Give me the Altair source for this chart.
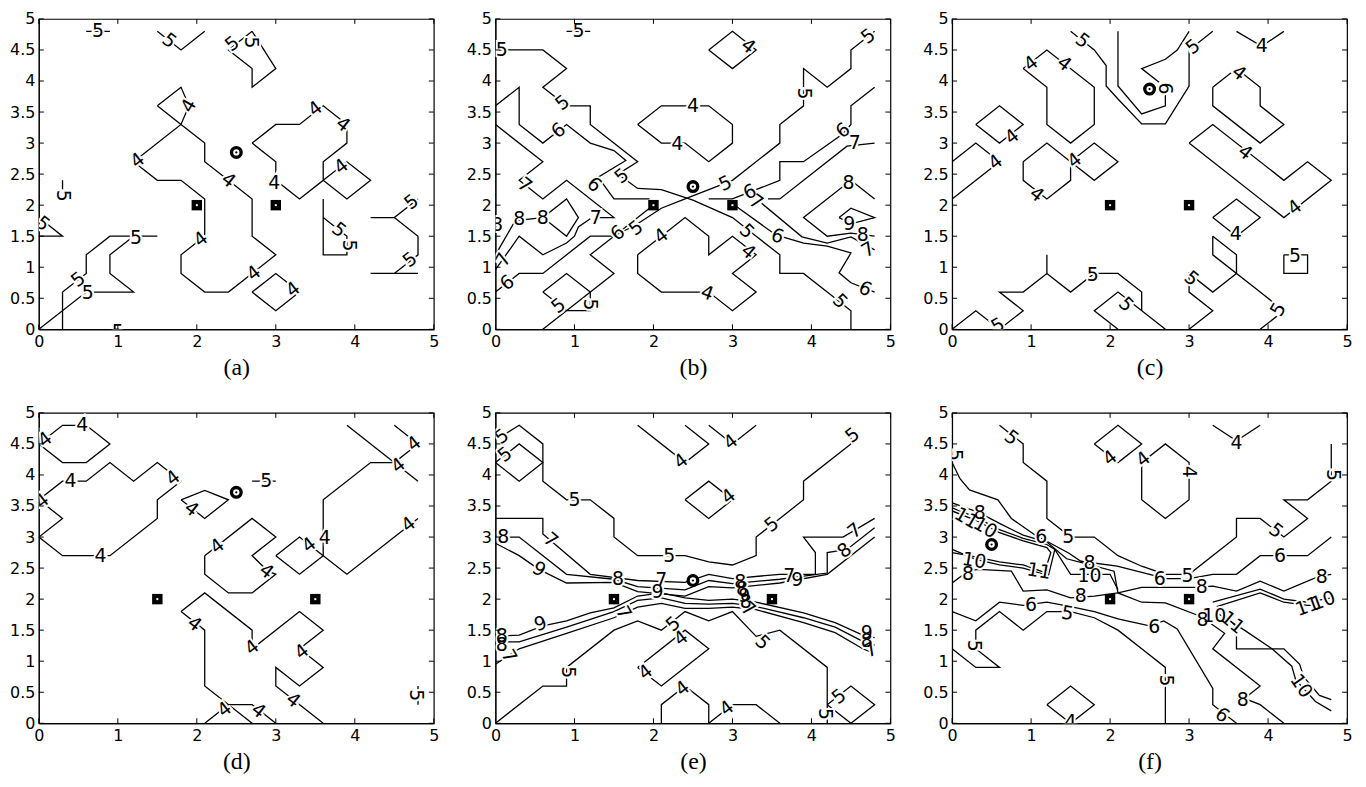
import altair as alt
import pandas as pd

W, H = 397, 312

XTICKS = [0, 1, 2, 3, 4, 5]
YTICKS = [0, 0.5, 1, 1.5, 2, 2.5, 3, 3.5, 4, 4.5, 5]
TITLES = ["(a)", "(b)", "(c)", "(d)", "(e)", "(f)"]

# ---------------- panel (a) ----------------
A_LINES = [
    [(0.6, 4.8), (0.9, 4.8)],
    [(1.5, 4.8), (1.8, 4.5), (2.1, 4.8)],
    [(2.7, 4.8), (3.0, 4.2), (2.7, 3.9), (2.7, 4.2), (2.4, 4.5), (2.7, 4.8)],
    [(1.5, 3.6), (1.8, 3.9), (1.9, 3.6), (1.8, 3.3), (1.2, 2.7), (1.5, 2.4), (1.8, 2.4), (2.1, 2.1),
     (2.1, 1.5), (1.8, 1.2), (1.8, 0.9), (2.1, 0.6), (2.4, 0.6), (2.7, 0.9), (3.0, 1.2), (2.7, 1.5),
     (2.7, 2.1), (2.4, 2.4), (2.1, 2.7), (2.1, 3.0), (1.8, 3.3), (1.5, 3.6)],
    [(2.7, 3.0), (3.0, 3.3), (3.3, 3.3), (3.6, 3.6), (3.9, 3.3), (3.9, 3.0), (3.6, 2.7), (3.6, 2.4),
     (3.3, 2.1), (3.0, 2.4), (3.0, 2.7), (2.7, 3.0)],
    [(3.6, 2.4), (3.9, 2.7), (4.2, 2.4), (3.9, 2.1), (3.6, 2.4)],
    [(2.7, 0.6), (3.0, 0.9), (3.3, 0.6), (3.0, 0.3), (2.7, 0.6)],
    [(0.3, 0.0), (0.3, 0.6), (0.6, 0.9), (0.6, 1.2), (0.9, 1.5), (1.5, 1.5)],
    [(0.0, 0.0), (0.6, 0.6), (1.2, 0.6), (0.9, 0.9), (0.9, 1.2), (1.2, 1.5)],
    [(0.3, 2.4), (0.3, 2.25)],
    [(0.0, 1.8), (0.3, 1.5), (0.0, 1.5)],
    [(3.6, 2.1), (3.6, 1.2), (3.9, 1.2), (3.9, 1.5), (3.6, 1.8)],
    [(4.2, 1.8), (4.5, 1.8), (4.8, 2.1)],
    [(4.5, 1.8), (4.8, 1.5), (4.8, 1.2), (4.5, 0.9)],
    [(4.2, 0.9), (4.8, 0.9)],
]
A_LABELS = [
    ("5", 0.75, 4.8, 0), ("5", 1.65, 4.65, 38), ("5", 2.45, 4.6, 322), ("5", 2.68, 4.62, 90),
    ("4", 1.9, 3.6, 300), ("4", 1.25, 2.72, 322), ("4", 2.4, 2.4, 38), ("4", 2.05, 1.45, 322),
    ("4", 2.72, 0.9, 322), ("4", 3.5, 3.55, 322), ("4", 3.85, 3.3, 38), ("4", 2.98, 2.35, 0),
    ("4", 3.83, 2.62, 322), ("4", 3.22, 0.64, 322),
    ("5", 0.5, 0.8, 322), ("5", 1.23, 1.47, 0), ("5", 0.62, 0.59, 0), ("5", 0.3, 2.15, 90),
    ("5", 0.05, 1.7, 38), ("5", 1.0, -0.04, 0), ("5", 3.8, 1.6, 38), ("5", 3.92, 1.35, 90),
    ("5", 4.72, 2.05, 322), ("5", 4.7, 1.12, 322),
]
A_SQUARES = [(2.0, 2.0), (3.0, 2.0)]
A_CIRCLE = (2.5, 2.85)

# ---------------- panel (b) ----------------
B_LINES = [
    [(0.9, 4.8), (1.2, 4.8)],
    [(0.0, 4.5), (0.6, 4.5), (0.9, 4.2), (0.6, 3.9), (0.9, 3.6), (1.2, 3.6), (1.2, 3.3), (1.8, 2.7),
     (1.55, 2.5), (1.8, 2.27), (2.1, 2.25), (2.5, 2.08), (3.0, 1.8), (3.3, 1.5), (3.6, 1.2), (3.6, 0.9),
     (3.9, 0.9), (4.2, 0.6), (4.5, 0.3), (4.5, 0.0)],
    [(0.6, 0.0), (1.5, 0.9), (1.2, 1.2), (1.5, 1.5), (1.8, 1.7), (2.1, 1.95), (2.4, 2.1), (3.0, 2.4),
     (3.6, 3.0), (3.6, 3.3), (3.9, 3.6), (3.9, 4.2), (4.2, 3.9), (4.5, 4.2), (4.5, 4.5), (4.8, 4.8)],
    [(0.0, 0.6), (0.3, 0.9), (0.6, 0.9), (1.2, 1.5), (1.5, 1.5), (1.95, 1.95)],
    [(0.0, 3.6), (0.3, 3.9), (0.3, 3.3), (0.6, 3.0), (0.9, 3.3), (1.2, 3.0), (1.5, 2.88), (1.65, 2.72),
     (1.3, 2.45), (1.5, 2.1), (1.95, 2.1)],
    [(2.7, 2.1), (3.0, 2.1), (3.6, 2.4), (3.6, 2.7), (3.9, 2.7), (4.4, 3.15), (4.5, 3.3), (4.5, 3.6),
     (4.8, 3.9)],
    [(3.05, 1.98), (3.55, 1.52), (3.9, 1.39), (4.2, 1.34), (4.5, 1.23), (4.35, 0.91), (4.5, 0.75),
     (4.8, 0.6)],
    [(0.0, 3.3), (0.6, 2.7), (0.3, 2.4), (0.6, 2.1), (0.9, 2.4), (1.5, 1.8), (1.3, 1.8)],
    [(1.2, 1.78), (1.05, 1.65), (1.0, 1.5), (0.9, 1.39), (0.6, 1.2), (0.3, 1.5), (0.0, 0.96)],
    [(0.0, 1.2), (0.25, 1.75), (0.6, 1.8), (0.9, 2.1), (1.05, 1.8), (0.9, 1.5), (0.6, 1.8)],
    [(3.45, 2.1), (3.6, 2.1), (4.45, 2.95), (4.8, 3.0)],
    [(3.37, 2.03), (3.88, 1.49), (4.2, 1.39), (4.5, 1.49), (4.8, 1.28)],
    [(4.8, 2.1), (4.5, 2.4), (3.9, 1.8), (4.2, 1.5), (4.5, 1.55), (4.8, 1.5)],
    [(4.35, 1.8), (4.5, 1.95), (4.8, 1.8), (4.5, 1.7), (4.35, 1.8)],
    [(1.8, 3.3), (2.1, 3.6), (2.7, 3.6), (3.0, 3.3), (3.0, 3.0), (2.7, 2.7), (2.4, 3.0), (2.1, 3.0),
     (1.8, 3.3)],
    [(2.7, 4.5), (3.0, 4.8), (3.3, 4.5), (3.0, 4.2), (2.7, 4.5)],
    [(1.8, 1.2), (2.1, 1.5), (2.4, 1.8), (2.7, 1.5), (2.7, 1.2), (3.0, 1.5), (3.3, 1.2), (3.0, 0.9),
     (3.3, 0.6), (3.0, 0.3), (2.7, 0.6), (2.1, 0.6), (1.8, 0.9), (1.8, 1.2)],
    [(0.6, 0.6), (0.9, 0.9), (1.2, 0.6), (1.2, 0.3), (0.9, 0.3), (0.6, 0.6)],
]
B_LABELS = [
    ("5", 1.05, 4.8, 0), ("5", 0.08, 4.5, 0), ("5", 0.85, 3.65, 322), ("5", 1.6, 2.47, 322),
    ("5", 3.18, 1.58, 45), ("5", 4.36, 0.45, 45), ("5", 1.78, 1.63, 322), ("5", 2.91, 2.35, 335),
    ("5", 3.9, 3.8, 90), ("5", 4.72, 4.72, 322),
    ("6", 0.15, 0.75, 322), ("6", 1.55, 1.55, 322), ("6", 0.8, 3.2, 322), ("6", 1.25, 2.33, 40),
    ("6", 3.22, 2.21, 335), ("6", 4.4, 3.2, 322), ("6", 3.57, 1.5, 20), ("6", 4.68, 0.65, 25),
    ("7", 0.37, 2.32, 38), ("7", 1.27, 1.8, 0), ("7", 0.1, 1.12, 300), ("7", 4.55, 3.0, 0),
    ("7", 3.3, 2.05, 35), ("7", 4.72, 1.28, 330),
    ("8", 0.3, 1.78, 0), ("8", 0.6, 1.8, 0), ("8", 0.02, 1.68, 0), ("8", 4.47, 2.35, 0),
    ("8", 4.65, 1.52, 0), ("9", 4.48, 1.7, 0),
    ("4", 2.5, 3.6, 0), ("4", 2.3, 2.98, 0), ("4", 3.2, 4.56, 38), ("4", 2.1, 1.5, 322),
    ("4", 3.2, 1.25, 40), ("4", 2.68, 0.58, 20),
    ("5", 0.8, 0.38, 322), ("5", 1.2, 0.4, 90),
]
B_SQUARES = [(2.0, 2.0), (3.0, 2.0)]
B_CIRCLE = (2.5, 2.3)

# ---------------- panel (c) ----------------
C_LINES = [
    [(1.5, 4.8), (1.8, 4.5), (1.95, 4.25), (1.95, 3.92), (2.1, 3.71), (2.4, 3.31), (2.7, 3.31),
     (3.0, 3.92), (3.0, 4.5), (3.3, 4.8)],
    [(2.1, 4.8), (2.1, 3.92), (2.4, 3.47), (2.7, 3.6), (2.7, 3.78)],
    [(2.62, 3.98), (2.4, 4.2), (2.7, 4.35), (2.85, 4.5), (3.0, 4.8)],
    [(3.6, 4.8), (3.92, 4.56), (4.2, 4.8)],
    [(0.9, 4.2), (1.2, 4.5), (1.8, 3.9), (1.8, 3.3), (1.5, 3.0), (1.2, 3.3), (1.2, 3.9), (0.9, 4.2)],
    [(0.3, 3.3), (0.6, 3.6), (0.9, 3.3), (0.6, 3.0), (0.3, 3.3)],
    [(0.0, 2.7), (0.3, 3.0), (0.6, 2.7), (0.0, 2.1)],
    [(0.9, 2.7), (1.2, 3.0), (1.5, 2.7), (1.5, 2.4), (1.2, 2.1), (0.9, 2.4), (0.9, 2.7)],
    [(1.5, 2.7), (1.8, 3.0), (2.1, 2.7), (1.8, 2.4), (1.5, 2.7)],
    [(3.3, 3.9), (3.6, 4.2), (3.9, 3.9), (3.9, 3.6), (4.2, 3.3), (3.9, 3.0), (3.3, 3.6), (3.3, 3.9)],
    [(3.0, 3.0), (3.3, 3.3), (4.2, 2.4), (4.5, 2.7), (4.8, 2.4), (4.2, 1.8), (3.0, 3.0)],
    [(3.3, 1.8), (3.6, 2.1), (3.9, 1.8), (3.6, 1.5), (3.3, 1.8)],
    [(4.2, 1.2), (4.5, 1.2), (4.5, 0.9), (4.2, 0.9), (4.2, 1.2)],
    [(0.0, 0.0), (0.3, 0.3), (0.55, 0.05)],
    [(0.6, 0.0), (0.9, 0.3), (0.6, 0.6), (0.9, 0.6), (1.2, 0.9), (1.5, 0.6), (1.8, 0.9), (2.1, 0.9),
     (2.4, 0.6), (2.4, 0.3)],
    [(1.2, 0.9), (1.2, 1.2)],
    [(2.1, 0.0), (1.8, 0.3), (2.1, 0.6), (2.7, 0.0)],
    [(3.3, 1.5), (3.3, 1.2), (3.9, 0.6), (4.2, 0.3), (3.9, 0.0)],
    [(3.3, 1.5), (3.6, 1.2), (3.6, 0.9), (3.3, 0.6), (3.0, 0.9), (3.0, 0.6), (3.3, 0.3), (3.0, 0.0)],
]
C_LABELS = [
    ("5", 1.65, 4.65, 38), ("5", 3.05, 4.55, 322), ("6", 2.7, 3.88, 90), ("4", 3.92, 4.56, 0),
    ("4", 1.0, 4.28, 322), ("4", 1.42, 4.28, 38), ("4", 0.76, 3.1, 322), ("4", 0.55, 2.69, 322),
    ("4", 1.07, 2.17, 38), ("4", 1.55, 2.72, 322), ("4", 3.63, 4.13, 38), ("4", 3.71, 2.85, 38),
    ("4", 4.34, 1.96, 322), ("4", 3.59, 1.53, 0), ("5", 4.34, 1.18, 0), ("5", 0.58, 0.06, 330),
    ("5", 1.78, 0.87, 0), ("5", 2.2, 0.4, 45), ("5", 4.13, 0.32, 300), ("5", 3.03, 0.82, 40),
]
C_SQUARES = [(2.0, 2.0), (3.0, 2.0)]
C_CIRCLE = (2.5, 3.87)

# ---------------- panel (d) ----------------
D_LINES = [
    [(0.0, 4.5), (0.3, 4.8), (0.6, 4.8), (0.9, 4.5), (0.6, 4.2), (0.3, 4.2), (0.0, 4.5)],
    [(0.0, 3.6), (0.3, 3.9), (0.6, 3.9), (0.9, 4.2), (1.2, 3.9), (1.5, 4.2), (1.8, 3.9), (1.5, 3.6),
     (1.5, 3.3), (0.9, 2.7), (0.3, 2.7), (0.0, 3.0), (0.3, 3.3), (0.0, 3.6)],
    [(1.8, 3.6), (2.1, 3.75), (2.4, 3.6), (2.1, 3.3), (1.8, 3.6)],
    [(2.7, 3.9), (3.0, 3.9)],
    [(2.1, 2.7), (2.7, 3.3), (3.0, 3.0), (2.7, 2.7), (2.9, 2.45), (3.0, 2.4), (2.7, 2.1), (2.4, 2.1),
     (2.1, 2.4), (2.1, 2.7)],
    [(3.0, 2.7), (3.3, 3.0), (3.6, 2.7), (3.3, 2.4), (3.0, 2.7)],
    [(4.8, 3.3), (3.9, 2.4), (3.6, 2.7), (3.6, 3.6), (4.2, 4.2), (4.5, 4.2), (4.8, 4.5), (4.5, 4.8)],
    [(3.9, 4.8), (4.8, 3.9)],
    [(1.8, 1.8), (2.1, 2.1), (2.7, 1.5), (2.7, 1.2), (3.3, 1.8), (3.6, 1.5), (3.3, 1.2), (3.6, 0.9),
     (3.3, 0.6), (3.0, 0.9), (3.0, 0.6), (3.6, 0.0)],
    [(1.8, 1.8), (2.1, 1.5), (2.1, 0.6), (2.7, 0.0)],
    [(2.1, 0.0), (2.4, 0.3), (2.7, 0.3), (3.0, 0.0)],
    [(4.8, 0.6), (4.8, 0.3)],
]
D_LABELS = [
    ("4", 0.55, 4.8, 0), ("4", 0.08, 4.57, 322), ("4", 0.4, 3.9, 0), ("4", 1.7, 3.95, 322),
    ("4", 0.78, 2.7, 0), ("4", 0.04, 3.58, 322), ("4", 1.93, 3.45, 38), ("5", 2.88, 3.9, 0),
    ("4", 2.26, 2.85, 322), ("4", 2.88, 2.45, 38), ("4", 3.42, 2.87, 322), ("4", 3.62, 2.98, 0),
    ("4", 4.68, 3.2, 322), ("4", 4.55, 4.15, 322), ("4", 4.75, 4.5, 322), ("4", 2.7, 1.22, 322),
    ("4", 3.33, 1.15, 322), ("4", 3.22, 0.37, 38), ("4", 1.97, 1.6, 38), ("4", 2.35, 0.22, 322),
    ("4", 2.78, 0.2, 38), ("5", 4.78, 0.45, 90),
]
D_SQUARES = [(1.5, 2.0), (3.5, 2.0)]
D_CIRCLE = (2.5, 3.72)

# ---------------- panel (e) ----------------
E_LINES = [
    [(0.02, 4.58), (0.3, 4.8), (0.6, 4.5), (0.6, 3.9), (0.9, 3.6), (1.2, 3.6), (1.5, 3.3), (1.5, 3.0),
     (1.8, 2.7), (2.4, 2.7), (2.7, 2.6), (3.0, 2.55), (3.3, 2.7), (3.3, 3.0), (3.6, 3.3), (3.9, 3.6),
     (3.9, 3.9), (4.5, 4.5), (4.5, 4.6)],
    [(0.0, 4.2), (0.3, 4.5), (0.6, 4.2), (0.3, 3.9), (0.0, 4.2)],
    [(1.8, 4.8), (2.4, 4.2), (2.7, 4.5), (2.4, 4.8)],
    [(2.7, 4.8), (3.0, 4.5), (3.3, 4.8)],
    [(2.4, 3.6), (2.7, 3.9), (3.0, 3.6), (2.7, 3.3), (2.4, 3.6)],
    [(0.0, 3.3), (0.6, 3.3), (0.6, 3.05), (1.2, 2.4), (1.8, 2.3), (2.4, 2.27), (2.7, 2.4), (3.0, 2.33),
     (3.6, 2.4), (4.05, 2.4), (4.05, 2.75), (3.9, 3.0), (4.4, 3.0), (4.8, 3.3)],
    [(0.0, 3.0), (0.3, 3.0), (0.9, 2.4), (1.5, 2.32), (1.8, 2.2), (2.4, 2.15), (2.7, 2.3), (3.0, 2.25),
     (3.6, 2.32), (4.2, 2.42), (4.2, 2.75), (4.45, 2.8), (4.8, 3.15)],
    [(0.0, 2.9), (0.3, 2.7), (0.55, 2.48), (0.9, 2.26), (1.5, 2.27), (1.8, 2.12), (2.4, 2.05), (2.7, 2.2),
     (3.0, 2.18), (3.6, 2.26), (4.2, 2.4), (4.8, 3.0)],
    [(0.0, 1.4), (0.3, 1.42), (0.6, 1.57), (0.9, 1.65), (1.2, 1.78), (1.5, 1.86), (1.8, 2.05), (2.1, 2.1),
     (2.4, 2.02), (2.7, 1.98), (3.0, 2.0), (3.3, 1.95), (3.9, 1.78), (4.3, 1.62), (4.65, 1.42), (4.8, 1.38)],
    [(0.0, 1.31), (0.3, 1.31), (0.9, 1.55), (1.5, 1.8), (1.8, 1.98), (2.1, 2.02), (2.4, 1.93), (2.7, 1.92),
     (3.0, 1.93), (3.3, 1.88), (3.9, 1.7), (4.3, 1.55), (4.65, 1.32), (4.8, 1.26)],
    [(0.0, 0.95), (0.3, 1.2), (0.9, 1.45), (1.5, 1.7), (1.8, 1.87), (2.1, 1.93), (2.4, 1.85), (2.7, 1.85),
     (3.0, 1.87), (3.3, 1.83), (3.9, 1.62), (4.3, 1.46), (4.65, 1.2), (4.8, 1.12)],
    [(0.0, 0.0), (0.6, 0.6), (0.9, 0.6), (0.9, 0.9), (1.5, 1.5), (1.8, 1.65), (2.1, 1.5), (2.4, 1.8),
     (2.7, 1.65), (3.0, 1.8), (3.3, 1.4), (3.6, 1.5), (4.2, 0.9), (4.2, 0.0)],
    [(1.8, 0.9), (2.4, 1.5), (2.7, 1.2), (2.1, 0.6), (1.8, 0.9)],
    [(2.1, 0.0), (2.1, 0.3), (2.4, 0.6), (2.7, 0.3), (2.7, 0.0)],
    [(2.7, 0.0), (3.0, 0.3), (3.3, 0.3), (3.6, 0.0)],
    [(4.2, 0.3), (4.5, 0.6), (4.8, 0.3), (4.5, 0.0), (4.2, 0.3)],
]
E_LABELS = [
    ("5", 0.08, 4.62, 322), ("5", 0.12, 4.33, 322), ("5", 1.0, 3.6, 0), ("5", 2.2, 2.69, 0),
    ("5", 3.5, 3.2, 322), ("5", 4.52, 4.64, 322), ("4", 2.35, 4.22, 322), ("4", 2.98, 4.53, 322),
    ("4", 2.95, 3.65, 322),
    ("8", 0.1, 3.0, 0), ("7", 0.7, 2.95, 40), ("9", 0.55, 2.48, 30), ("8", 1.55, 2.33, 0),
    ("7", 2.1, 2.3, 0), ("9", 2.05, 2.12, 0), ("7", 1.62, 1.78, 60), ("9", 0.57, 1.6, 340),
    ("8", 0.08, 1.4, 0), ("8", 0.08, 1.26, 0), ("7", 0.17, 1.08, 60),
    ("8", 3.1, 2.28, 0), ("8", 3.12, 2.16, 0), ("9", 3.15, 2.05, 0), ("8", 3.17, 1.95, 0),
    ("7", 3.2, 1.84, 40), ("7", 3.72, 2.38, 0), ("9", 3.82, 2.3, 0), ("8", 4.42, 2.78, 322),
    ("7", 4.55, 3.1, 322), ("9", 4.7, 1.45, 0), ("8", 4.7, 1.33, 0), ("7", 4.75, 1.18, 330),
    ("5", 0.92, 0.82, 90), ("5", 2.25, 1.6, 320), ("5", 3.38, 1.3, 45), ("5", 4.17, 0.15, 90),
    ("4", 2.35, 1.37, 322), ("4", 1.9, 0.82, 322), ("4", 2.37, 0.56, 322), ("4", 2.93, 0.24, 322),
    ("5", 4.35, 0.43, 322),
]
E_SQUARES = [(1.5, 2.0), (3.5, 2.0)]
E_CIRCLE = (2.5, 2.3)

# ---------------- panel (f) ----------------
F_LINES = [
    [(0.6, 4.8), (0.9, 4.5), (0.9, 4.2), (1.2, 3.9), (1.2, 3.3), (1.5, 3.0), (1.8, 3.0), (2.1, 2.7),
     (2.4, 2.53), (2.7, 2.4), (3.0, 2.4), (3.6, 3.0), (3.6, 3.3), (3.9, 3.3), (4.2, 3.0), (4.5, 3.3),
     (4.2, 3.6), (4.5, 3.6), (4.8, 3.9), (4.8, 4.5)],
    [(0.0, 4.2), (0.1, 3.94), (0.22, 3.76), (0.58, 3.6), (0.75, 3.3), (1.04, 3.04), (1.48, 2.74),
     (1.63, 2.61), (2.09, 2.53), (2.5, 2.4), (2.7, 2.33), (3.0, 2.33), (3.3, 2.4), (3.6, 2.4), (3.9, 2.7),
     (4.5, 2.7), (4.8, 3.0)],
    [(0.0, 3.55), (0.33, 3.4), (0.6, 3.22), (0.9, 3.03), (1.2, 2.92), (1.45, 2.65), (1.75, 2.55),
     (2.05, 2.45), (2.1, 2.1), (2.4, 1.95), (2.7, 1.94), (3.15, 1.72), (3.45, 1.45), (3.3, 1.2),
     (3.9, 0.6), (3.7, 0.4), (3.9, 0.3), (4.2, 0.0)],
    [(0.0, 3.47), (0.3, 3.32), (0.6, 3.12), (0.9, 2.98), (1.2, 2.88), (1.3, 2.8), (1.22, 2.38),
     (0.9, 2.5), (0.6, 2.55), (0.3, 2.64), (0.0, 2.8)],
    [(0.0, 3.42), (0.3, 3.27), (0.6, 3.07), (0.9, 2.94), (1.2, 2.83), (1.25, 2.75), (1.17, 2.43),
     (0.9, 2.55), (0.6, 2.6), (0.3, 2.68), (0.0, 2.75)],
    [(1.3, 2.8), (1.5, 2.4), (2.0, 2.4), (2.1, 2.15)],
    [(0.0, 2.26), (0.2, 2.45), (0.33, 2.48), (0.75, 2.45), (0.9, 2.13), (1.2, 2.15), (1.5, 2.02),
     (1.8, 2.05), (2.1, 2.1), (2.4, 2.19), (3.1, 2.19), (3.3, 2.21), (3.6, 2.13), (3.9, 2.29),
     (4.2, 2.13), (4.65, 2.37), (4.8, 2.4)],
    [(0.0, 1.8), (0.3, 1.65), (0.6, 1.95), (0.9, 1.9), (1.2, 1.95), (1.5, 1.88), (1.8, 1.8), (2.1, 1.68),
     (2.5, 1.57), (2.68, 1.65), (2.85, 1.52), (3.3, 0.56), (3.3, 0.3), (3.6, 0.0)],
    [(0.0, 1.2), (0.3, 0.9), (0.6, 0.9), (0.3, 1.2), (0.3, 1.5), (0.6, 1.8), (0.9, 1.5), (1.2, 1.8),
     (1.5, 1.8), (1.8, 1.7), (2.1, 1.5), (2.4, 1.2), (2.7, 0.9), (2.7, 0.0)],
    [(3.3, 1.95), (3.9, 2.16), (4.2, 2.0), (4.5, 1.95), (4.8, 2.02)],
    [(3.35, 1.88), (3.9, 2.1), (4.2, 1.95), (4.5, 1.9), (4.65, 1.9)],
    [(3.35, 1.78), (3.7, 1.5), (4.05, 1.2), (4.3, 0.92), (4.35, 0.7), (4.6, 0.35), (4.8, 0.2)],
    [(3.45, 1.75), (3.6, 1.55), (3.6, 1.2), (4.2, 1.2), (4.4, 0.95), (4.45, 0.75), (4.65, 0.45),
     (4.8, 0.38)],
    [(1.8, 4.5), (2.1, 4.8), (2.4, 4.5), (2.1, 4.2), (1.8, 4.5)],
    [(2.4, 4.2), (2.7, 4.5), (3.0, 4.2), (3.0, 3.6), (2.7, 3.3), (2.4, 3.6), (2.4, 4.2)],
    [(3.3, 4.8), (3.6, 4.55), (3.9, 4.8)],
    [(1.2, 0.3), (1.5, 0.6), (1.8, 0.3), (1.5, 0.0), (1.2, 0.3)],
]
F_LABELS = [
    ("5", 0.75, 4.6, 38), ("5", 1.47, 3.0, 0), ("5", 2.98, 2.38, 0), ("5", 4.1, 3.1, 38),
    ("5", 4.82, 4.0, 90), ("5", 0.03, 4.32, 90),
    ("6", 1.13, 3.0, 0), ("6", 2.63, 2.33, 0), ("6", 4.15, 2.7, 0),
    ("8", 0.35, 3.38, 0), ("8", 1.74, 2.58, 0), ("8", 3.17, 1.66, 0), ("8", 3.68, 0.38, 0),
    ("11", 0.18, 3.3, 30), ("10", 0.42, 3.15, 30), ("10", 0.28, 2.62, 10), ("11", 1.1, 2.45, 10),
    ("10", 1.74, 2.37, 0), ("8", 0.2, 2.4, 0), ("8", 1.63, 2.05, 0), ("8", 3.16, 2.2, 0),
    ("8", 4.68, 2.36, 0), ("6", 1.0, 1.9, 0), ("6", 2.56, 1.55, 0), ("6", 3.42, 0.13, 38),
    ("5", 0.28, 1.25, 90), ("5", 1.46, 1.77, 10), ("5", 2.71, 0.69, 90),
    ("10", 4.7, 1.97, 340), ("11", 4.5, 1.88, 340), ("10", 3.32, 1.72, 0), ("11", 3.55, 1.62, 40),
    ("10", 4.42, 0.6, 55),
    ("4", 2.0, 4.27, 322), ("4", 2.42, 4.25, 322), ("4", 3.0, 4.05, 90), ("4", 3.6, 4.52, 0),
    ("4", 1.5, 0.02, 0),
]
F_SQUARES = [(2.0, 2.0), (3.0, 2.0)]
F_CIRCLE = (0.5, 2.88)

LABEL_FONT = "DejaVu Sans"
TICK_FONT = "DejaVu Sans"


def panel(title, lines, labels, squares, circle):
    rows = []
    for k, line in enumerate(lines):
        for i, (x, y) in enumerate(line):
            rows.append({"id": k, "i": i, "x": x, "y": y})
    ldf = pd.DataFrame(rows)
    tdf = pd.DataFrame(labels, columns=["t", "x", "y", "a"])
    sdf = pd.DataFrame(squares, columns=["x", "y"])
    cdf = pd.DataFrame([circle], columns=["x", "y"])
    xt = pd.DataFrame({"x": XTICKS})
    yt = pd.DataFrame({"y": YTICKS})

    sx = alt.Scale(domain=[0, 5], nice=False, zero=False)
    sy = alt.Scale(domain=[0, 5], nice=False, zero=False)
    ax = alt.Axis(values=XTICKS, format="~g", ticks=False, domain=True, domainColor="black",
                  domainWidth=1, grid=False,
                  labelFont=TICK_FONT, labelFontSize=16, labelColor="black", labelPadding=4,
                  labelFlush=False, labelOverlap=False, title=title,
                  titleFont="Liberation Serif", titleFontSize=24, titleFontWeight="normal",
                  titleColor="black", titlePadding=6)
    ay = alt.Axis(values=YTICKS, format="~g", ticks=False, domain=True, domainColor="black",
                  domainWidth=1, grid=False,
                  labelFont=TICK_FONT, labelFontSize=16, labelColor="black", labelPadding=4,
                  labelFlush=False, labelOverlap=False, title=None)

    def X():
        return alt.X("x:Q", scale=sx, axis=ax)

    def Y():
        return alt.Y("y:Q", scale=sy, axis=ay)

    lines_ch = alt.Chart(ldf).mark_line(color="black", strokeWidth=1.3, clip=True).encode(
        x=X(), y=Y(), detail="id:N", order=alt.Order("i:Q"))
    halo = alt.Chart(tdf).mark_text(font=LABEL_FONT, fontSize=19, color="white", stroke="white",
                                    strokeWidth=4, clip=True).encode(
        x=X(), y=Y(), text="t:N", angle=alt.Angle("a:Q", scale=None))
    text = alt.Chart(tdf).mark_text(font=LABEL_FONT, fontSize=19, color="black", clip=True).encode(
        x=X(), y=Y(), text="t:N", angle=alt.Angle("a:Q", scale=None))
    sq = alt.Chart(sdf).mark_square(size=110, color="black", opacity=1).encode(x=X(), y=Y())
    sq_dot = alt.Chart(sdf).mark_square(size=4, color="white", opacity=1).encode(x=X(), y=Y())
    c1 = alt.Chart(cdf).mark_circle(size=170, color="black", opacity=1).encode(x=X(), y=Y())
    c2 = alt.Chart(cdf).mark_circle(size=40, color="white", opacity=1).encode(x=X(), y=Y())
    c3 = alt.Chart(cdf).mark_circle(size=5, color="black", opacity=1).encode(x=X(), y=Y())
    tb = alt.Chart(xt).mark_rule(color="black").encode(x=X(), y=alt.value(H), y2=alt.value(H - 5))
    tt = alt.Chart(xt).mark_rule(color="black").encode(x=X(), y=alt.value(0), y2=alt.value(5))
    tl = alt.Chart(yt).mark_rule(color="black").encode(y=Y(), x=alt.value(0), x2=alt.value(5))
    tr = alt.Chart(yt).mark_rule(color="black").encode(y=Y(), x=alt.value(W), x2=alt.value(W - 5))
    return alt.layer(lines_ch, halo, text, sq, sq_dot, c1, c2, c3, tb, tt, tl, tr).properties(
        width=W, height=H)


panels = [
    panel(TITLES[0], A_LINES, A_LABELS, A_SQUARES, A_CIRCLE),
    panel(TITLES[1], B_LINES, B_LABELS, B_SQUARES, B_CIRCLE),
    panel(TITLES[2], C_LINES, C_LABELS, C_SQUARES, C_CIRCLE),
    panel(TITLES[3], D_LINES, D_LABELS, D_SQUARES, D_CIRCLE),
    panel(TITLES[4], E_LINES, E_LABELS, E_SQUARES, E_CIRCLE),
    panel(TITLES[5], F_LINES, F_LABELS, F_SQUARES, F_CIRCLE),
]

chart = alt.concat(*panels, columns=3, spacing={"row": 84, "column": 62}, bounds="flush").properties(
    padding={"left": 0, "top": 0, "right": 5, "bottom": 0},
    background="white",
).configure_view(stroke="black", strokeWidth=1.2)

chart.save("out.html", embed_options={"renderer": "svg", "actions": False})
